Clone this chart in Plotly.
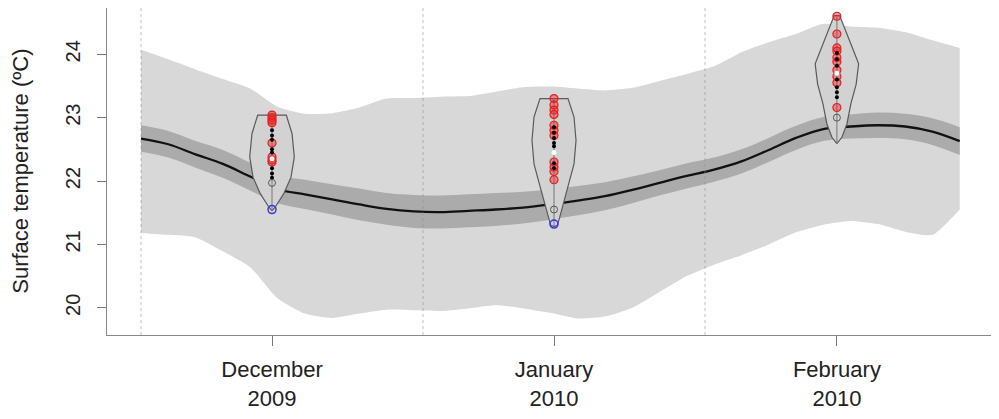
import plotly.graph_objects as go

# ---- data -------------------------------------------------------------
# days since 1 Dec 2009 (sampled every 3 days)
days = [0, 3, 6, 9, 12, 15, 18, 21, 24, 27, 30, 33, 36, 39, 42, 45, 48, 51,
        54, 57, 60, 63, 66, 69, 72, 75, 78, 81, 84, 87, 90]
mean_temp = [22.67, 22.58, 22.42, 22.27, 22.07, 21.87, 21.79, 21.71, 21.63, 21.56,
             21.52, 21.51, 21.53, 21.55, 21.58, 21.63, 21.69, 21.76, 21.86, 21.97,
             22.08, 22.18, 22.31, 22.49, 22.68, 22.82, 22.86, 22.88, 22.86, 22.78, 22.63]
ci_upper = [22.88, 22.79, 22.63, 22.49, 22.29, 22.09, 22.02, 21.95, 21.88, 21.81,
            21.78, 21.77, 21.79, 21.81, 21.83, 21.87, 21.92, 21.98, 22.07, 22.17,
            22.28, 22.37, 22.50, 22.68, 22.87, 23.01, 23.05, 23.08, 23.06, 22.99, 22.85]
ci_lower = [22.46, 22.37, 22.21, 22.05, 21.85, 21.65, 21.56, 21.47, 21.38, 21.31,
            21.26, 21.25, 21.27, 21.29, 21.33, 21.39, 21.46, 21.54, 21.65, 21.77,
            21.88, 21.99, 22.12, 22.30, 22.49, 22.63, 22.67, 22.68, 22.66, 22.57, 22.41]
range_upper = [24.07, 23.92, 23.76, 23.61, 23.46, 23.17, 23.06, 23.07, 23.16, 23.30,
               23.31, 23.33, 23.34, 23.41, 23.48, 23.49, 23.46, 23.43, 23.47, 23.58,
               23.69, 23.81, 24.03, 24.19, 24.32, 24.48, 24.44, 24.42, 24.35, 24.22, 24.10]
range_lower = [21.18, 21.15, 21.11, 20.89, 20.64, 20.15, 19.91, 19.84, 19.91, 19.97,
               19.96, 19.95, 19.99, 20.04, 19.99, 19.92, 19.83, 19.86, 20.00, 20.25,
               20.50, 20.68, 20.83, 21.00, 21.19, 21.31, 21.37, 21.32, 21.20, 21.15, 21.55]

month_starts = [0, 31, 62]
month_centers = [14.4, 45.4, 76.5]
month_labels = ["December<br>2009", "January<br>2010", "February<br>2010"]

# violin outlines: temperature levels and half-widths (days)
violin_levels = [
    [21.53, 21.59, 21.80, 22.06, 22.38, 22.75, 23.04],
    [21.28, 21.30, 21.43, 21.64, 21.96, 22.27, 22.64, 23.01, 23.30],
    [22.59, 22.69, 22.90, 23.22, 23.53, 23.85, 24.05, 24.32, 24.61],
]
violin_halfwidth = [
    [0.0, 0.36, 1.29, 2.09, 2.45, 2.20, 1.57],
    [0.0, 0.36, 0.63, 0.99, 1.62, 2.20, 2.42, 2.20, 1.54],
    [0.0, 0.55, 1.10, 1.54, 2.12, 2.39, 1.84, 1.10, 0.30],
]

# observed values per month
red_obs = [
    [23.04, 23.00, 22.96, 22.92, 22.60, 22.38, 22.33, 22.30],
    [23.30, 23.20, 23.12, 23.05, 22.88, 22.80, 22.72, 22.30, 22.22, 22.15, 22.02],
    [24.60, 24.32, 24.10, 24.05, 23.95, 23.88, 23.75, 23.65, 23.55, 23.16],
]
black_obs = [
    [22.80, 22.72, 22.65, 22.50, 22.45, 22.20, 22.12, 22.05],
    [22.85, 22.76, 22.68, 22.60, 22.55, 22.28, 22.20],
    [24.02, 23.92, 23.82, 23.70, 23.60, 23.48, 23.40, 23.32],
]
median_obs = [22.35, 22.45, 23.70]
gray_obs = [21.97, 21.55, 23.00]
blue_obs = [21.55, 21.32, None]

# ---- figure -----------------------------------------------------------
fig = go.Figure()

# wide (light) band
fig.add_trace(go.Scatter(x=days, y=range_upper, mode="lines", line=dict(width=0, shape="spline", smoothing=0.6),
                         hoverinfo="skip", showlegend=False))
fig.add_trace(go.Scatter(x=days, y=range_lower, mode="lines", line=dict(width=0, shape="spline", smoothing=0.6),
                         fill="tonexty", fillcolor="#d8d8d8", hoverinfo="skip", showlegend=False))
# narrow (dark) band
fig.add_trace(go.Scatter(x=days, y=ci_upper, mode="lines", line=dict(width=0, shape="spline"),
                         hoverinfo="skip", showlegend=False))
fig.add_trace(go.Scatter(x=days, y=ci_lower, mode="lines", line=dict(width=0, shape="spline"),
                         fill="tonexty", fillcolor="#ababab", hoverinfo="skip", showlegend=False))
# mean line
fig.add_trace(go.Scatter(x=days, y=mean_temp, mode="lines", line=dict(color="#111111", width=2.3, shape="spline"),
                         showlegend=False))

for i, c in enumerate(month_centers):
    lv = violin_levels[i]
    hw = violin_halfwidth[i]
    xs = [c + w for w in hw] + [c - w for w in reversed(hw)]
    ys = lv + list(reversed(lv))
    fig.add_trace(go.Scatter(x=xs, y=ys, mode="lines", fill="toself", fillcolor="#d2d2d2",
                             line=dict(color="#5a5a5a", width=1.2), showlegend=False, hoverinfo="skip"))
    fig.add_trace(go.Scatter(x=[c, c], y=[lv[0], lv[-1]], mode="lines",
                             line=dict(color="#777777", width=1), showlegend=False, hoverinfo="skip"))
    fig.add_trace(go.Scatter(x=[c] * len(red_obs[i]), y=red_obs[i], mode="markers",
                             marker=dict(symbol="circle", size=8, color="rgba(240,40,40,0.45)",
                                         line=dict(color="#e02020", width=1.2)), showlegend=False))
    fig.add_trace(go.Scatter(x=[c] * len(black_obs[i]), y=black_obs[i], mode="markers",
                             marker=dict(symbol="circle", size=4, color="#000000"), showlegend=False))
    fig.add_trace(go.Scatter(x=[c], y=[median_obs[i]], mode="markers",
                             marker=dict(symbol="circle", size=5, color="#ffffff"), showlegend=False))
    fig.add_trace(go.Scatter(x=[c], y=[gray_obs[i]], mode="markers",
                             marker=dict(symbol="circle-open", size=7, color="#555555", line=dict(width=1)),
                             showlegend=False))
    if blue_obs[i] is not None:
        fig.add_trace(go.Scatter(x=[c], y=[blue_obs[i]], mode="markers",
                                 marker=dict(symbol="circle-open", size=8, color="#3333ee", line=dict(width=1.5)),
                                 showlegend=False))

for m in month_starts:
    fig.add_shape(type="line", x0=m, x1=m, yref="paper", y0=0, y1=1, layer="above",
                  line=dict(color="rgba(140,140,140,0.55)", width=1, dash="dot"))

fig.add_annotation(text="Surface temperature (ºC)", xref="paper", yref="paper",
                   x=-0.098, y=0.5, xanchor="center", yanchor="middle", textangle=-90,
                   showarrow=False, font=dict(size=22, color="#222222"))

fig.update_layout(
    width=991, height=411,
    margin=dict(l=99, r=7, t=0, b=84),
    paper_bgcolor="white", plot_bgcolor="white",
    font=dict(family="Liberation Sans, Arial, sans-serif", color="#222222"),
    xaxis=dict(range=[-3.74, 93.55], tickmode="array", tickvals=month_centers, ticktext=month_labels,
               ticks="outside", ticklen=10, tickcolor="#777777", showgrid=False, zeroline=False,
               showline=True, linecolor="#888888", mirror=True, tickfont=dict(size=22),
               ticklabelstandoff=5),
    yaxis=dict(range=[19.57, 24.73], tickmode="array", tickvals=[20, 21, 22, 23, 24],
               ticktext=["20", "21", "22", "23", "24"], tickangle=-90,
               ticks="outside", ticklen=9, tickcolor="#777777", showgrid=False, zeroline=False,
               showline=True, linecolor="#888888", mirror=True, tickfont=dict(size=20),
               ticklabelstandoff=9),
)

fig.write_html("out.html")
